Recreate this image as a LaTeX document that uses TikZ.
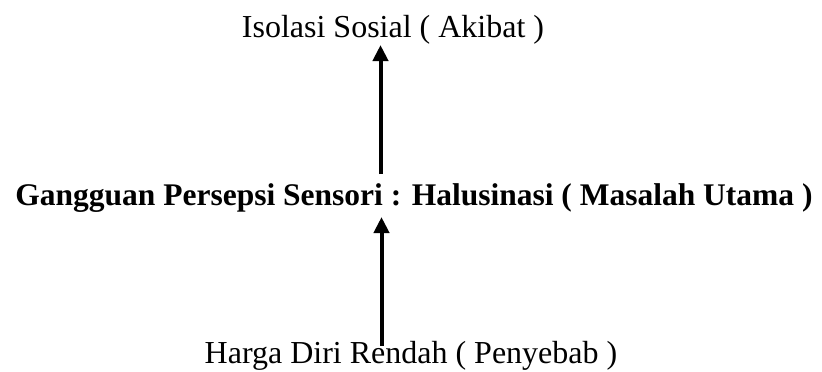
\documentclass[tikz,border=0pt]{standalone}
\usepackage{fontspec}
\setmainfont{Liberation Serif}
\usetikzlibrary{arrows.meta}
\begin{document}
\begin{tikzpicture}[x=1pt,y=-1pt,
  lbl/.style={inner sep=0pt,anchor=base,font=\fontsize{32}{36}\selectfont},
  conn/.style={line width=4pt,-{Triangle[length=16pt,width=15pt]}}]
\useasboundingbox (0,0) rectangle (822,372);
\node[lbl] (top) at (393,37) {Isolasi Sosial ( Akibat )};
\node[lbl,font=\fontsize{31.5}{36}\selectfont\bfseries] (mid) at (414,205) {Gangguan Persepsi Sensori : Halusinasi ( Masalah Utama )};
\node[lbl] (bot) at (411,363) {Harga Diri Rendah ( Penyebab )};
\coordinate (a1s) at (380.5,174);
\coordinate (a1e) at (380.5,45);
\coordinate (a2s) at (381.5,346);
\coordinate (a2e) at (381.5,217);
\draw[conn] (a1s) -- (a1e);
\draw[conn] (a2s) -- (a2e);
\end{tikzpicture}
\end{document}
